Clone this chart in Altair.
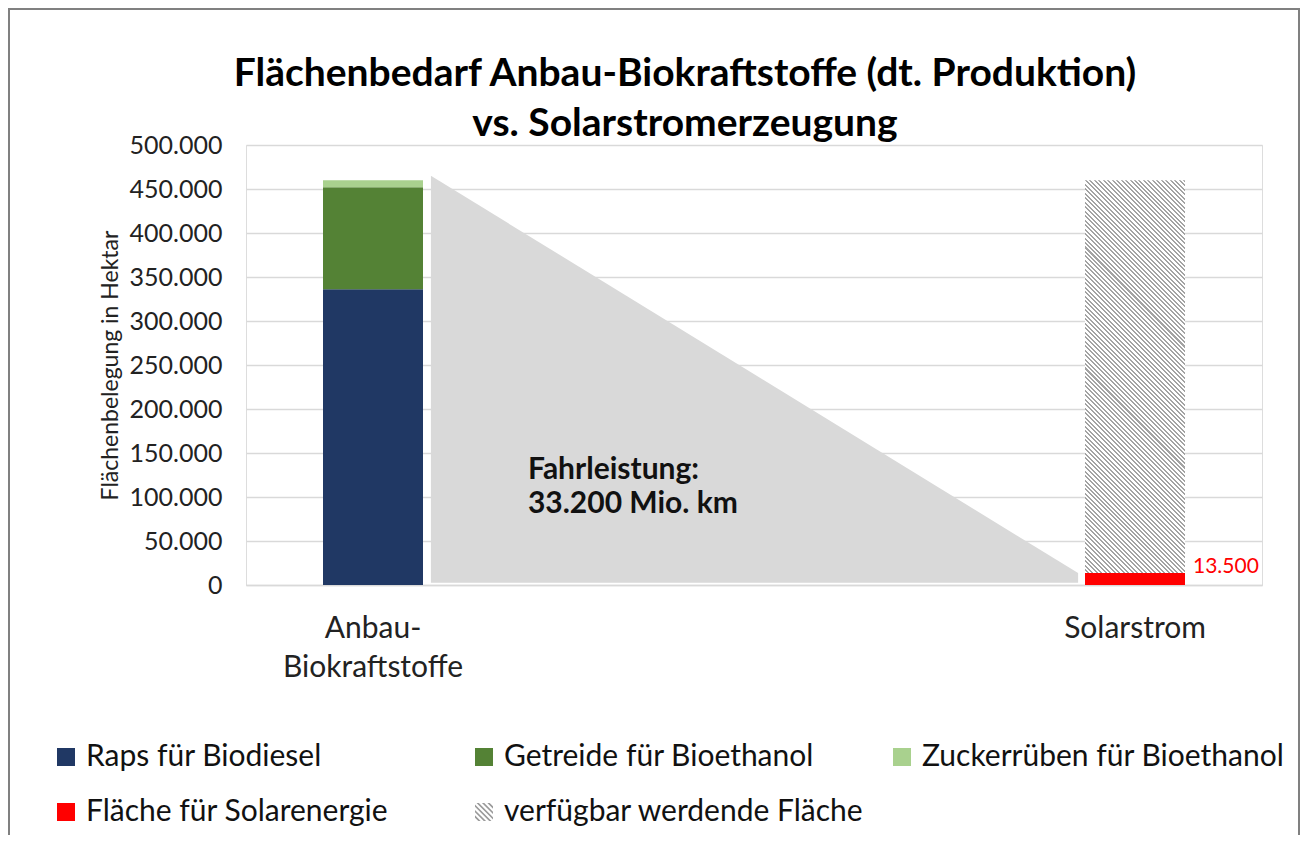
import altair as alt
import pandas as pd

# ---------------- data ----------------
title_lines = "Flächenbedarf Anbau-Biokraftstoffe (dt. Produktion)\nvs. Solarstromerzeugung"
categories = ["Anbau-Biokraftstoffe", " ", "  ", "Solarstrom"]
series = ["Raps für Biodiesel", "Getreide für Bioethanol", "Zuckerrüben für Bioethanol",
          "Fläche für Solarenergie", "verfügbar werdende Fläche"]
series_cat = ["Anbau-Biokraftstoffe", "Anbau-Biokraftstoffe", "Anbau-Biokraftstoffe",
              "Solarstrom", "Solarstrom"]
values = [336000, 116000, 8000, 13500, 446500]
colors = ["#203864", "#548235", "#a9d18e", "#ff0000", "#9a9a9a"]
hatch_series = "verfügbar werdende Fläche"

y_ticks = [0, 50000, 100000, 150000, 200000, 250000, 300000, 350000, 400000, 450000, 500000]

# grey "Fahrleistung" wedge between the two bars (x in category units, 0..4)
tri_x = [0.728, 3.276]
tri_top = [465000, 13500]
tri_bottom = [2500, 2500]

ann_text = ["Fahrleistung:\n33.200 Mio. km"]
ann_x = [1.11]
ann_y = [120500]

FONT = "Lato"

# ---------------- tables ----------------
rows = []
cum = {}
for c, s, v in zip(series_cat, series, values):
    start = cum.get(c, 0)
    rows.append({"cat": c, "series": s, "start": start, "end": start + v, "value": v})
    cum[c] = start + v
bars = pd.DataFrame(rows)
tri = pd.DataFrame({"x": tri_x, "y": tri_top, "y0": tri_bottom})
ann = pd.DataFrame({"x": ann_x, "y": ann_y, "t": ann_text})

# ---------------- layout ----------------
W, H = 1016, 440
STEP = W / len(categories)
BAR_W = 100
p_in = 1 - BAR_W / STEP

# diagonal hatch as a striped linear gradient
hb_w = BAR_W
hb_h = values[4] * H / 500000
k = (hb_w + hb_h) / (hb_w ** 2 + hb_h ** 2)
period = 4.5
n = int(round((hb_w + hb_h) / period))
stops = []
for i in range(n):
    a, b, c = i / n, (i + 0.55) / n, (i + 1) / n
    stops += [{"offset": round(a, 5), "color": "#ffffff"},
              {"offset": round(b, 5), "color": "#ffffff"},
              {"offset": round(b, 5), "color": "#a3a3a3"},
              {"offset": round(c, 5), "color": "#a3a3a3"}]
hatch_fill = {"gradient": "linear", "x1": 0, "y1": 1,
              "x2": round(k * hb_w, 5), "y2": round(1 - k * hb_h, 5), "stops": stops}


# hatched legend symbol path (stripes clipped to the unit square)
def clip(poly, f):
    out = []
    for i in range(len(poly)):
        p, q = poly[i], poly[(i + 1) % len(poly)]
        fp, fq = f(p), f(q)
        if fp >= 0:
            out.append(p)
        if (fp >= 0) != (fq >= 0):
            t = fp / (fp - fq)
            out.append((p[0] + t * (q[0] - p[0]), p[1] + t * (q[1] - p[1])))
    return out


paths = []
for cc in [-1.5, -0.9, -0.3, 0.3, 0.9, 1.5]:
    w = 0.13
    poly = [(-1, -1), (1, -1), (1, 1), (-1, 1)]
    poly = clip(poly, lambda p, cc=cc: (p[0] - p[1]) - (cc - w))
    poly = clip(poly, lambda p, cc=cc: (cc + w) - (p[0] - p[1]))
    if len(poly) >= 3:
        paths.append("M" + "L".join(f"{x:.3f},{y:.3f}" for x, y in poly) + "Z")
hatch_path = "".join(paths)
shapes = ["square", "square", "square", "square", hatch_path]


def y_enc(field):
    return alt.Y(f"{field}:Q", title="Flächenbelegung in Hektar",
                 scale=alt.Scale(domain=[0, 500000], nice=False),
                 axis=alt.Axis(values=y_ticks, format=",.0f", grid=True, gridColor="#d9d9d9",
                               gridWidth=1.5, domain=False, ticks=False, tickSize=0,
                               labelFont=FONT, labelFontSize=25, labelColor="#222222",
                               labelPadding=24, titleFont=FONT, titleFontSize=23,
                               titleFontWeight="normal", titleColor="#222222",
                               titlePadding=7))


legend = alt.Legend(orient="none", legendX=-195, legendY=597, columns=3,
                    direction="horizontal", gridAlign="all", symbolSize=324,
                    symbolStrokeWidth=0, labelFont=FONT, labelFontSize=30,
                    labelColor="#111111", labelOffset=5, labelLimit=800,
                    columnPadding=20, rowPadding=25, padding=0)

color_enc = alt.Color("series:N", title=None,
                      scale=alt.Scale(domain=series, range=colors), legend=legend)
shape_enc = alt.Shape("series:N", title=None,
                      scale=alt.Scale(domain=series, range=shapes), legend=legend)

xq = alt.X("x:Q", scale=alt.Scale(domain=[0, 4], nice=False, zero=False), axis=None)
band_scale = alt.Scale(domain=categories, paddingInner=p_in, paddingOuter=p_in / 2)
xb_axis = alt.X("cat:N", title=None, scale=band_scale,
                axis=alt.Axis(labelExpr="datum.value == 'Anbau-Biokraftstoffe' ? ['Anbau-', 'Biokraftstoffe'] : datum.value",
                              labelFont=FONT, labelFontSize=30, labelColor="#222222",
                              labelBaseline="alphabetic", labelPadding=52, labelLineHeight=39,
                              labelLimit=400, ticks=False, tickSize=0, domain=True,
                              domainColor="#d9d9d9", domainWidth=1.5, grid=False, labelAngle=0))
xb = alt.X("cat:N", title=None, scale=band_scale, axis=None)

wedge = alt.Chart(tri).mark_area(color="#d9d9d9", interpolate="linear").encode(
    x=xq, y=y_enc("y"), y2="y0:Q")

note = alt.Chart(ann).mark_text(align="left", baseline="alphabetic", lineBreak="\n",
                                font=FONT, fontSize=30, fontWeight="bold",
                                lineHeight=34, color="#111111").encode(
    x=xq, y=y_enc("y"), text="t:N")

colored = alt.Chart(bars).transform_filter(
    alt.datum.series != hatch_series).mark_bar().encode(
    x=xb_axis, y=y_enc("start"), y2="end:Q", color=color_enc)

hatched = alt.Chart(bars).transform_filter(
    alt.datum.series == hatch_series).mark_bar(fill=hatch_fill).encode(
    x=xb, y=y_enc("start"), y2="end:Q")

# invisible point layer (no rows) that only carries the legend symbol shapes
legend_keys = alt.Chart(bars).transform_filter("false").mark_point(
    filled=True, opacity=1).encode(
    x=xb, y=y_enc("start"), color=color_enc, shape=shape_enc)

label = alt.Chart(bars).transform_filter(
    alt.datum.series == "Fläche für Solarenergie").mark_text(
    align="left", baseline="alphabetic", dx=58, font=FONT, fontSize=21, color="#ff0000").encode(
    x=xb, y=y_enc("end"), text=alt.Text("end:Q", format=",.0f"))

frame = alt.Chart(pd.DataFrame({"a": [0]})).mark_rect(
    fillOpacity=0, stroke="#808080", strokeWidth=2).encode(
    x=alt.value(-237), x2=alt.value(1053), y=alt.value(-136), y2=alt.value(720))

title = alt.Chart(pd.DataFrame({"t": [title_lines]})).mark_text(
    align="center", baseline="alphabetic", lineBreak="\n", lineHeight=50,
    font=FONT, fontSize=39, fontWeight="bold", color="#000000").encode(
    x=alt.value(439), y=alt.value(-59), text="t:N")

chart = alt.layer(wedge, note, colored, hatched, legend_keys, label, frame, title).resolve_scale(
    x="independent").properties(
    width=W, height=H,
    autosize=alt.AutoSizeParams(type="none"),
    padding={"left": 238, "top": 137, "right": 38, "bottom": 250},
).configure_view(strokeWidth=0).configure(
    locale={"number": {"decimal": ",", "thousands": ".", "grouping": [3],
                       "currency": ["", " €"]}})

chart.save("out.html", embed_options={"renderer": "svg", "actions": False})
